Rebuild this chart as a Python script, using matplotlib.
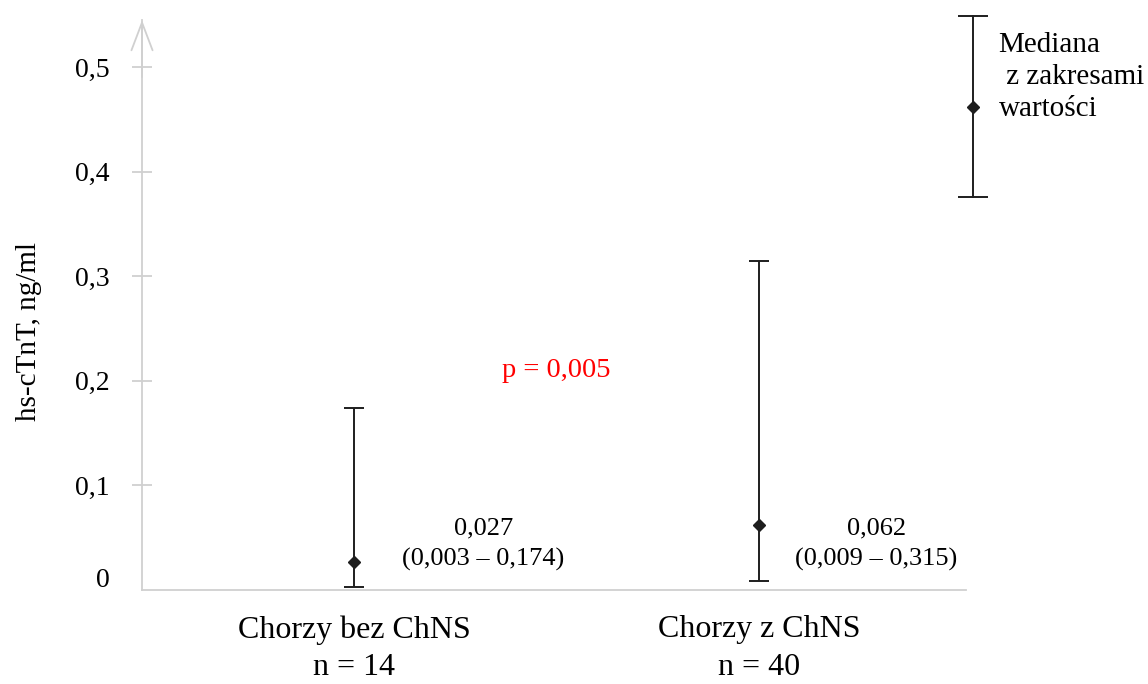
import matplotlib.pyplot as plt

# --- data ---
groups = ["Chorzy bez ChNS", "Chorzy z ChNS"]
group_n = [14, 40]
medians = [0.027, 0.062]
mins = [0.003, 0.009]
maxs = [0.174, 0.315]
y_ticks = [0.0, 0.1, 0.2, 0.3, 0.4, 0.5]
p_text = "p = 0,005"


def pl(v, nd=3):
    # Polish decimal comma
    return f"{v:.{nd}f}".replace(".", ",")


plt.rcParams["font.family"] = ["Liberation Serif", "DejaVu Serif"]

fig = plt.figure(figsize=(11.48, 6.84), dpi=100)
ax = fig.add_axes([0.1237, 0.1374, 0.8415 - 0.1237, 0.9708 - 0.1374])

axis_gray = "#d0d0d0"
ink = "#1e1e1e"
xpos = list(range(len(groups)))

# median with min-max range
for x, med, lo, hi in zip(xpos, medians, mins, maxs):
    ax.errorbar(x, med, yerr=[[med - lo], [hi - med]], fmt="D", color=ink,
                ms=6, lw=1.4, capsize=7, capthick=1.4, ecolor=ink, zorder=3)

# value labels next to each bar
label_dx = [0.32, 0.29]
label_y = 0.044
for x, dx, med, lo, hi in zip(xpos, label_dx, medians, mins, maxs):
    ax.text(x + dx, label_y, f"{pl(med)}\n({pl(lo)} – {pl(hi)})",
            ha="center", va="center", fontsize=19, linespacing=1.5)

ax.text(0.5, 0.21, p_text, color="#ff0000", ha="center", va="center", fontsize=20.5)

ax.set_xlim(-0.523, 1.511)
ax.set_ylim(0, 0.545)

ax.set_xticks(xpos)
ax.set_xticklabels([f"{g}\nn = {n}" for g, n in zip(groups, group_n)],
                   fontsize=23, linespacing=1.4)
ax.tick_params(axis="x", length=0, pad=18)

ax.set_yticks(y_ticks)
ax.set_yticklabels(["" if v == 0 else pl(v, 1) for v in y_ticks], fontsize=20)
ax.tick_params(axis="y", direction="inout", length=15, width=1.3,
               color=axis_gray, pad=16)
ax.yaxis.get_major_ticks()[0].tick1line.set_visible(False)
# zero label sits a little above the x axis
ax.text(-0.0388, 0.009, "0", transform=ax.get_yaxis_transform(),
        ha="right", va="center", fontsize=20)
ax.set_ylabel("hs-cTnT, ng/ml", fontsize=21)
ax.yaxis.set_label_coords(-0.1214, 0.454)

for s in ("top", "right"):
    ax.spines[s].set_visible(False)
for s in ("left", "bottom"):
    ax.spines[s].set_color(axis_gray)
    ax.spines[s].set_linewidth(1.3)

# open arrow head at the top of the y axis
ax.annotate("", xy=(0, 1.0), xytext=(0, 0.9), xycoords="axes fraction",
            arrowprops=dict(arrowstyle="->,head_length=1.0,head_width=0.38",
                            mutation_scale=20, color=axis_gray, lw=1.3,
                            shrinkA=0, shrinkB=0))

# key: bar with caps and median marker
kx, ktop, kmid, kbot = 1.0085, 1.007, 0.847, 0.689
ax.plot([kx, kx], [kbot, ktop], color=ink, lw=1.4, transform=ax.transAxes,
        clip_on=False)
ax.plot([kx, kx], [kbot, ktop], ls="none", marker="_", ms=21, mew=1.4,
        color=ink, transform=ax.transAxes, clip_on=False)
ax.plot([kx], [kmid], ls="none", marker="D", ms=6, color=ink,
        transform=ax.transAxes, clip_on=False)
ax.text(1.0395, 0.9, "Mediana\n z zakresami\nwartości", transform=ax.transAxes,
        ha="left", va="center", fontsize=21, linespacing=1.28)

fig.savefig("out.png", dpi=100)
